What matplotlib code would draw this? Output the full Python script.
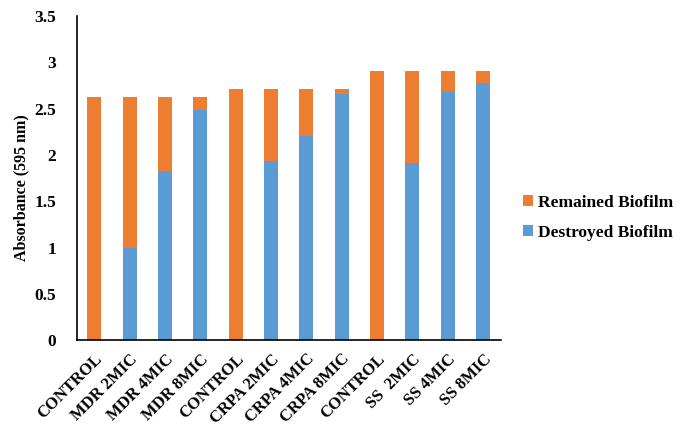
import numpy as np
import matplotlib.pyplot as plt

plt.rcParams['font.family'] = ['Liberation Serif', 'DejaVu Serif']
plt.rcParams['font.weight'] = 'bold'

labels = ['CONTROL', 'MDR 2MIC', 'MDR 4MIC', 'MDR 8MIC',
          'CONTROL', 'CRPA 2MIC', 'CRPA 4MIC', 'CRPA 8MIC',
          'CONTROL', 'SS  2MIC', 'SS 4MIC', 'SS 8MIC']
total = [2.63, 2.63, 2.63, 2.63,
         2.71, 2.71, 2.71, 2.71,
         2.91, 2.91, 2.91, 2.91]
destroyed = [0, 1.0, 1.83, 2.49,
             0, 1.94, 2.21, 2.66,
             0, 1.91, 2.68, 2.78]

remained = np.array(total) - np.array(destroyed)
x = np.arange(len(labels))

fig = plt.figure(figsize=(6.85, 4.36), dpi=100)
ax = fig.add_axes([0.112, 0.22, 0.619, 0.743])

ax.bar(x, destroyed, width=0.4, color='#5B9BD5', label='Destroyed Biofilm')
ax.bar(x, remained, width=0.4, bottom=destroyed, color='#ED7D31', label='Remained Biofilm')

ax.set_xlim(-0.5, 11.5)
ax.set_ylim(0, 3.5)
ax.set_yticks(np.arange(0, 3.51, 0.5))
ax.set_yticklabels(['0', '0.5', '1', '1.5', '2', '2.5', '3', '3.5'], fontsize=12.5, fontweight='bold')
ax.set_xticks(x)
ax.set_xticklabels(labels, rotation=45, ha='right', rotation_mode='anchor', fontsize=12, fontweight='bold')
ax.tick_params(axis='x', length=0, pad=8)
ax.tick_params(axis='y', length=0, pad=15)
ax.set_ylabel('Absorbance (595 nm)', fontsize=11.5, fontweight='bold')
ax.yaxis.set_label_coords(-0.112, 0.47)

ax.spines['top'].set_visible(False)
ax.spines['right'].set_visible(False)
ax.spines['left'].set_linewidth(1.2)
ax.spines['bottom'].set_linewidth(1.2)

handles, lbls = ax.get_legend_handles_labels()
fig.legend(handles[::-1], lbls[::-1], loc='center left', bbox_to_anchor=(0.74, 0.5),
           frameon=False, fontsize=12.5, handlelength=0.6, handleheight=0.6, handletextpad=0.3,
           labelspacing=0.8)

fig.savefig('out.png', dpi=100)
